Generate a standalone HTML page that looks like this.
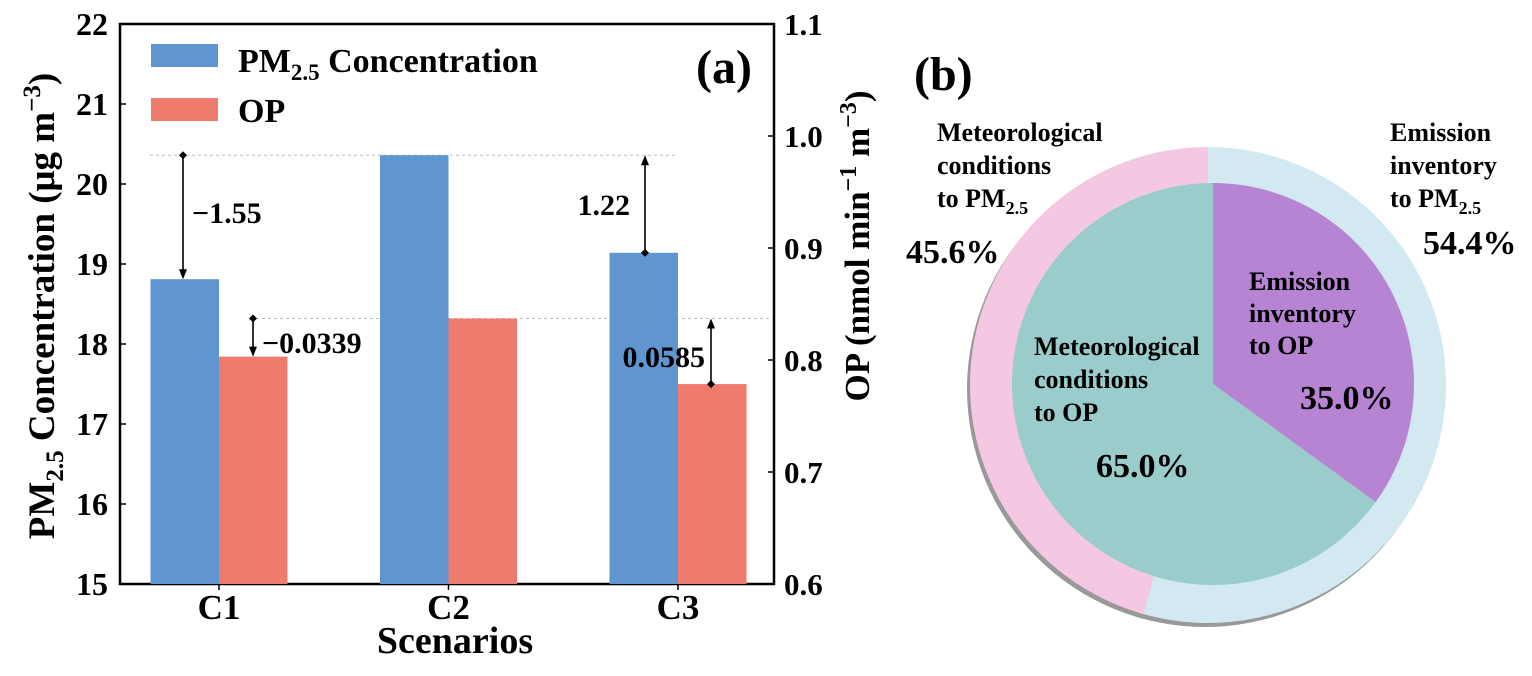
<!DOCTYPE html>
<html><head><meta charset="utf-8"><style>
html,body{margin:0;padding:0;background:#fff;}
svg{display:block;font-family:"Liberation Serif",serif;font-weight:bold;}
</style></head><body>
<svg id="fig" width="1532" height="676" viewBox="0 0 1532 676">
<g id="barchart"></g>
<g id="piechart"></g>
</svg>
<script>
const categories = ["C1","C2","C3"];
const pmValues = [18.81, 20.36, 19.14];
const opValues = [0.803, 0.837, 0.7785];
const leftTicks = [15,16,17,18,19,20,21,22];
const rightTicks = ["0.6","0.7","0.8","0.9","1.0","1.1"];
const diffLabels = ["−1.55","−0.0339","1.22","0.0585"];
const outerLabels = ["Meteorological conditions to PM2.5","Emission inventory to PM2.5"];
const outerValues = [45.6, 54.4];
const innerValues = [65.0, 35.0];

const NS="http://www.w3.org/2000/svg";
function mk(tag, attrs, parent, text){const e=document.createElementNS(NS,tag);for(const k in attrs)e.setAttribute(k,attrs[k]);if(text!==undefined)e.textContent=text;parent.appendChild(e);return e;}
const bc=document.getElementById('barchart');
const X0=120,X1=774,Y0=584,Y1=24;
const yL=v=>Y0-(v-15)*(Y0-Y1)/7;
const yR=v=>Y0-(v-0.6)*(Y0-Y1)/0.5;
const cx=i=>219+i*229.5;
const bw=68.5;

let fr=mk('rect',{x:X0,y:Y1,width:X1-X0,height:Y0-Y1,fill:'none',stroke:'#000','stroke-width':2.5},bc);


let d1=mk('line',{x1:150,x2:676,y1:yL(pmValues[1]),y2:yL(pmValues[1]),stroke:'#bbb','stroke-dasharray':'3,3','stroke-width':1},bc);

let d2=mk('line',{x1:250,x2:770,y1:yR(opValues[1]),y2:yR(opValues[1]),stroke:'#bbb','stroke-dasharray':'3,3','stroke-width':1},bc);


categories.forEach((c,i)=>{
  let b=mk('rect',{x:cx(i)-bw,y:yL(pmValues[i]),width:bw,height:Y0-yL(pmValues[i]),fill:'#5f96d0'},bc);
  
  let r=mk('rect',{x:cx(i),y:yR(opValues[i]),width:bw,height:Y0-yR(opValues[i]),fill:'#ef7b6e'},bc);
  
  let t=mk('text',{x:cx(i),y:619,'font-size':35,'text-anchor':'middle'},bc,c);
  
  let tk=mk('line',{x1:cx(i),x2:cx(i),y1:Y0,y2:Y0+6,stroke:'#000','stroke-width':1.5},bc);
  
});
function arrow(x,yFrom,yTo,name){
  const g=mk('g',{},bc);
  
  const dir=yTo>yFrom?1:-1;
  mk('line',{x1:x,x2:x,y1:yFrom,y2:yTo-dir*8,stroke:'#000','stroke-width':1.6},g);
  mk('polygon',{points:`${x-4},${yTo-dir*10} ${x+4},${yTo-dir*10} ${x},${yTo}`,fill:'#000'},g);
  mk('polygon',{points:`${x},${yFrom-4} ${x+4},${yFrom} ${x},${yFrom+4} ${x-4},${yFrom}`,fill:'#000'},g);
}
arrow(183,yL(pmValues[1]),yL(pmValues[0]),'arrow-pm-c1');
arrow(253,yR(opValues[1]),yR(opValues[0]),'arrow-op-c1');
arrow(645,yL(pmValues[2]),yL(pmValues[1]),'arrow-pm-c3');
arrow(711,yR(opValues[2]),yR(opValues[1]),'arrow-op-c3');
const dl=[[192,223,'start'],[262,353,'start'],[630,215,'end'],[705,367,'end']];
diffLabels.forEach((s,i)=>{let t=mk('text',{x:dl[i][0],y:dl[i][1],'font-size':30,'text-anchor':dl[i][2]},bc,s);
  });

leftTicks.forEach(v=>{
  let t=mk('text',{x:108,y:yL(v)+11,'font-size':32,'text-anchor':'end'},bc,String(v));
  
  let l=mk('line',{x1:X0,x2:X0+6,y1:yL(v),y2:yL(v),stroke:'#000','stroke-width':1.5},bc);
  
});
rightTicks.forEach(s=>{
  const v=parseFloat(s);
  let t=mk('text',{x:784,y:yR(v)+11,'font-size':31},bc,s);
  
  let l=mk('line',{x1:X1-6,x2:X1,y1:yR(v),y2:yR(v),stroke:'#000','stroke-width':1.5},bc);
  
});
</script>
<script>
(function(){
const bc=document.getElementById('barchart');
bc.insertAdjacentHTML('beforeend',`
<text transform="translate(54,306) rotate(-90)" text-anchor="middle" font-size="37">PM<tspan font-size="25" dy="9">2.5</tspan><tspan dy="-9"> Concentration (μg m</tspan><tspan font-size="25" dy="-14">−3</tspan><tspan dy="14">)</tspan></text>
<text transform="translate(869,246) rotate(-90)" text-anchor="middle" font-size="35">OP (nmol min<tspan font-size="24" dy="-13">−1</tspan><tspan dy="13"> m</tspan><tspan font-size="24" dy="-13">−3</tspan><tspan dy="13">)</tspan></text>
<text x="455" y="653" text-anchor="middle" font-size="38">Scenarios</text>
<rect x="151" y="44" width="67" height="23" fill="#5f96d0"/>
<text x="238" y="72" font-size="34">PM<tspan font-size="23" dy="8">2.5</tspan><tspan dy="-8"> Concentration</tspan></text>
<rect x="151" y="98" width="67" height="23" fill="#ef7b6e"/>
<text x="238" y="122" font-size="34">OP</text>
<text x="696" y="83" font-size="48">(a)</text>
`);
})();
</script>
<script>
(function(){
const pc=document.getElementById('piechart');
function arc(cx,cy,r,a0,a1){
  const p=a=>[cx+r*Math.sin(a*Math.PI/180),cy-r*Math.cos(a*Math.PI/180)];
  const [x0,y0]=p(a0),[x1,y1]=p(a1);const large=(a1-a0)>180?1:0;
  return `M${cx},${cy} L${x0},${y0} A${r},${r} 0 ${large} 1 ${x1},${y1} Z`;
}
const OC=[1208,385],OR=238,IC=[1213,384],IR=201;
let sh=mk('ellipse',{cx:OC[0]-3,cy:OC[1]+4,rx:OR,ry:OR,fill:'#999'},pc);

const oTot=outerValues[0]+outerValues[1];
const aBlue=outerValues[1]/oTot*360;
let o1=mk('path',{d:arc(OC[0],OC[1],OR,0,aBlue),fill:'#d2e9f1'},pc);

let o2=mk('path',{d:arc(OC[0],OC[1],OR,aBlue,360),fill:'#f4c8e3'},pc);

const iTot=innerValues[0]+innerValues[1];
const aPur=innerValues[1]/iTot*360;
let i1=mk('path',{d:arc(IC[0],IC[1],IR,0,aPur),fill:'#b784d3'},pc);

let i2=mk('path',{d:arc(IC[0],IC[1],IR,aPur,360),fill:'#99cccb'},pc);

const f=v=>v.toFixed(1)+'%';
pc.insertAdjacentHTML('beforeend',`
<text x="914" y="90" font-size="48">(b)</text>
<text font-size="26"><tspan x="937" y="141">Meteorological</tspan><tspan x="937" y="174">conditions</tspan><tspan x="937" y="207">to PM</tspan><tspan font-size="18" dy="7">2.5</tspan></text>
<text font-size="26"><tspan x="1390" y="141">Emission</tspan><tspan x="1390" y="174">inventory</tspan><tspan x="1390" y="207">to PM</tspan><tspan font-size="18" dy="7">2.5</tspan></text>
<text x="906" y="263" font-size="34">${f(outerValues[0])}</text>
<text x="1423" y="254" font-size="34">${f(outerValues[1])}</text>
<text font-size="26"><tspan x="1249" y="290">Emission</tspan><tspan x="1249" y="322">inventory</tspan><tspan x="1249" y="354">to OP</tspan></text>
<text x="1300" y="409" font-size="34">${f(innerValues[1])}</text>
<text font-size="26"><tspan x="1034" y="355">Meteorological</tspan><tspan x="1034" y="388">conditions</tspan><tspan x="1034" y="421">to OP</tspan></text>
<text x="1096" y="477" font-size="34">${f(innerValues[0])}</text>
`);
})();
</script>
</body></html>
